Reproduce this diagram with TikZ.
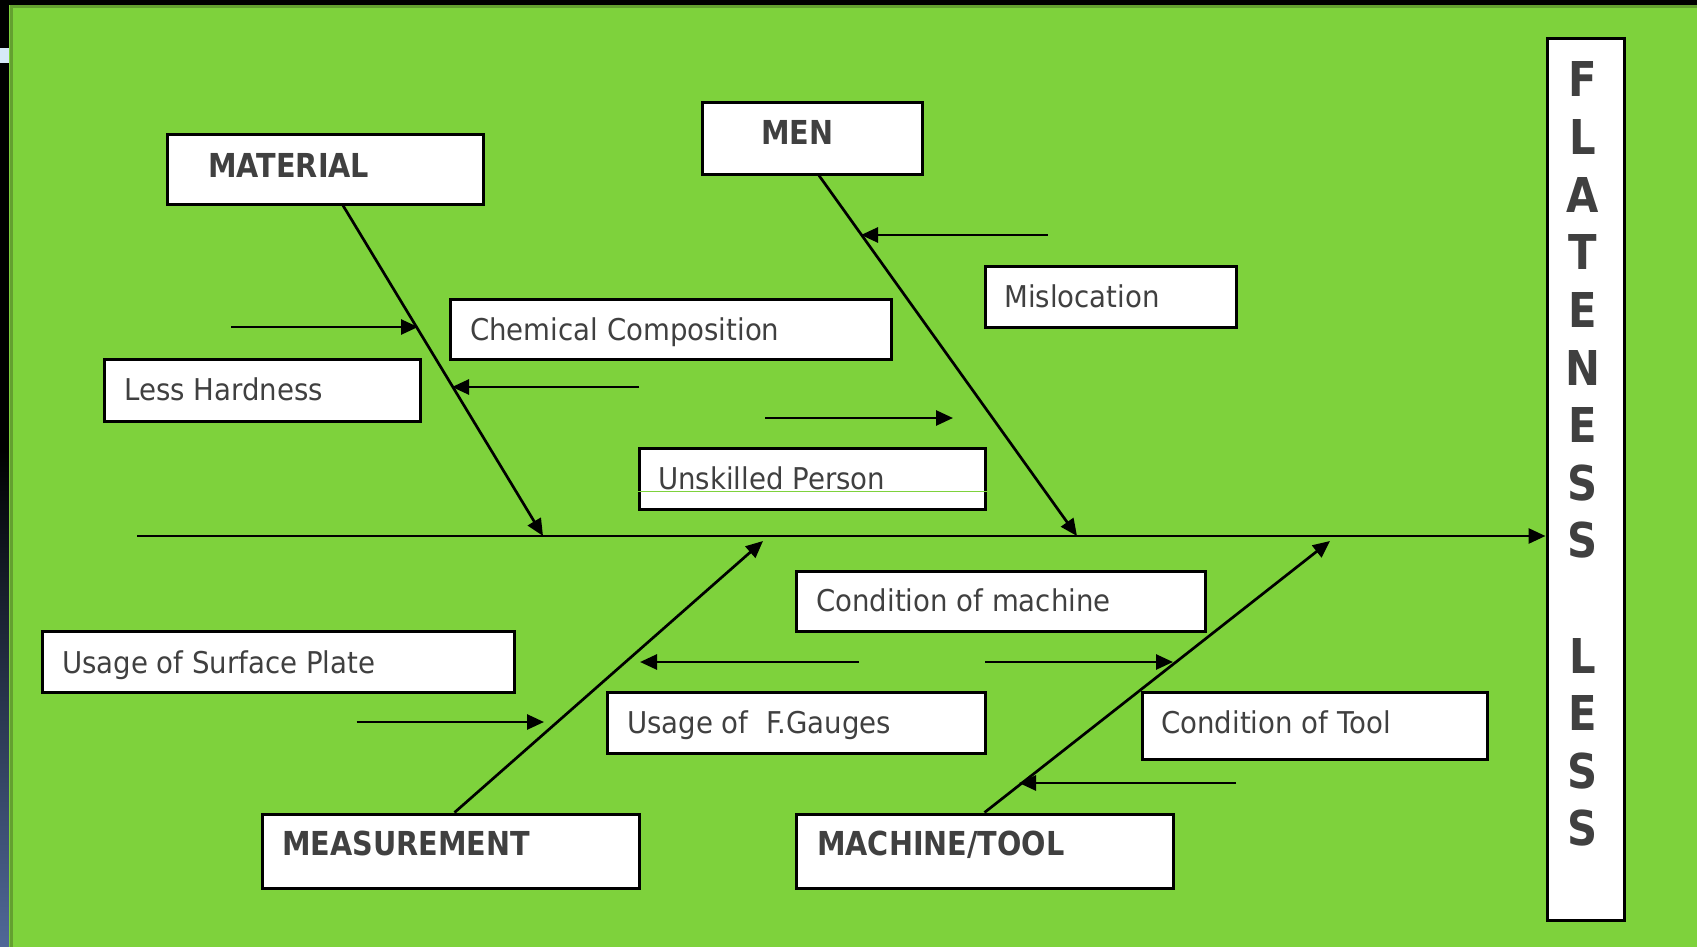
\documentclass[tikz,border=0pt]{standalone}
\usepackage{fontspec}
\usepackage{tikz}
\usetikzlibrary{arrows.meta}
\newfontfamily\labelfont[FakeStretch=0.92]{DejaVu Sans}
\newfontfamily\headfont[FakeStretch=0.87]{DejaVu Sans Bold}
\definecolor{bggreen}{RGB}{126,210,60}
\definecolor{edgegreen}{RGB}{100,160,48}
\definecolor{txtgray}{RGB}{64,64,64}
\definecolor{stripblue}{RGB}{80,104,152}
\definecolor{patchblue}{RGB}{214,234,248}

\begin{document}
\begin{tikzpicture}
        [x=1pt, y=-1pt,%%%%%%%%%%%%%%%%%%%%%%%%%%%%%%
        box/.style={draw=black, fill=white, line width=3pt, inner sep=0pt},
        cause/.style={font=\labelfont\fontsize{30}{36}\selectfont, text=txtgray,
                      anchor=base west, inner sep=0pt},
        head/.style={cause, font=\headfont\fontsize{33}{40}\selectfont},
        letter/.style={cause, anchor=base, font=\headfont\fontsize{48}{56}\selectfont},
        bone/.style={line width=2.7pt, -{Triangle[length=17pt,width=15pt]}},
        ]%%%%%%%%%%%%%%%%%%%%%%%%%%%%%%
        \useasboundingbox (0,0) rectangle (1697,947);
        % Frame and background
        \fill[black] (0,0) rectangle (1697,947);
        \shade[top color=black, bottom color=stripblue] (0,450) rectangle (9,947);
        \fill[patchblue] (0,48) rectangle (9,63);
        \fill[bggreen] (9,5) rectangle (1697,947);
        \draw[edgegreen, line width=3pt] (11,947) -- (11,7) -- (1697,7);

        % Boxes
        \node[box, minimum width=316pt, minimum height=69pt] (material) at (325,169.5) {};
        \node[box, minimum width=220pt, minimum height=71pt] (men) at (812,138.5) {};
        \node[box, minimum width=251pt, minimum height=61pt] (misloc) at (1110.5,296.5) {};
        \node[box, minimum width=441pt, minimum height=60pt] (chem) at (670.5,329) {};
        \node[box, minimum width=316pt, minimum height=62pt] (hard) at (262,390) {};
        \node[box, minimum width=346pt, minimum height=61pt] (unskilled) at (812,478.5) {};
        \node[box, minimum width=472pt, minimum height=61pt] (surface) at (278,661.5) {};
        \node[box, minimum width=378pt, minimum height=61pt] (gauges) at (796,722.5) {};
        \node[box, minimum width=409pt, minimum height=60pt] (condmach) at (1000.5,601) {};
        \node[box, minimum width=345pt, minimum height=67pt] (condtool) at (1314.5,725.5) {};
        \node[box, minimum width=377pt, minimum height=74pt] (measure) at (450.5,851) {};
        \node[box, minimum width=377pt, minimum height=74pt] (machtool) at (984.5,851) {};
        \node[box, minimum width=77pt, minimum height=881pt] (effect) at (1585.5,479.5) {};
        \draw[bggreen, line width=1pt] (unskilled.west |- 0,491) -- (unskilled.east |- 0,491);

        % Text
        \node[head] (t-material) at (208,177) {MATERIAL};
        \node[head] (t-men) at (761,145) {MEN};
        \node[head] (t-measure) at (282,855) {MEASUREMENT};
        \node[head] (t-machtool) at (817,855) {MACHINE/TOOL};
        \node[cause] (t-misloc) at (1004,307) {Mislocation};
        \node[cause] (t-chem) at (470,340) {Chemical Composition};
        \node[cause] (t-hard) at (124,400) {Less Hardness};
        \node[cause] (t-unskilled) at (658,489) {Unskilled Person};
        \node[cause] (t-surface) at (62,673) {Usage of Surface Plate};
        \node[cause] (t-gauges) at (627,733) {Usage of \ F.Gauges};
        \node[cause] (t-condmach) at (816,611) {Condition of machine};
        \node[cause] (t-condtool) at (1161,733) {Condition of Tool};
        \foreach \ch/\k in {F/0,L/1,A/2,T/3,E/4,N/5,E/6,S/7,S/8,L/10,E/11,S/12,S/13}{
          \node[letter] (ch-\k) at (1583,{97+57.6*\k}) {\ch};
        }

        % Spine and main bones
        \coordinate (tail) at (137,536);
        \coordinate (j-material) at (543,536);
        \coordinate (j-men) at (1077,536);
        \coordinate (j-measure) at (763,541);
        \coordinate (j-machtool) at (1330,541);
        \draw[bone, line width=2.9pt] (tail) -- (tail -| effect.west);
        \draw[bone] ([xshift=18pt]material.south) -- (j-material);
        \draw[bone] ([xshift=7pt]men.south) -- (j-men);
        \draw[bone] ([xshift=4pt]measure.north) -- (j-measure);
        \draw[bone] (machtool.north) -- (j-machtool);

        % Small bones
        \foreach \a/\b/\y [count=\i] in {231/418/327, 639/452/387, 1047.5/861/235, 765/953/418,
                              356.5/544/722, 859/640/662, 985/1173/662, 1236/1019/783}{
          \coordinate (s-\i) at (\a,\y);
          \coordinate (e-\i) at (\b,\y);
          \draw[bone] (s-\i) -- (e-\i);
        }
      \end{tikzpicture}
\end{document}
